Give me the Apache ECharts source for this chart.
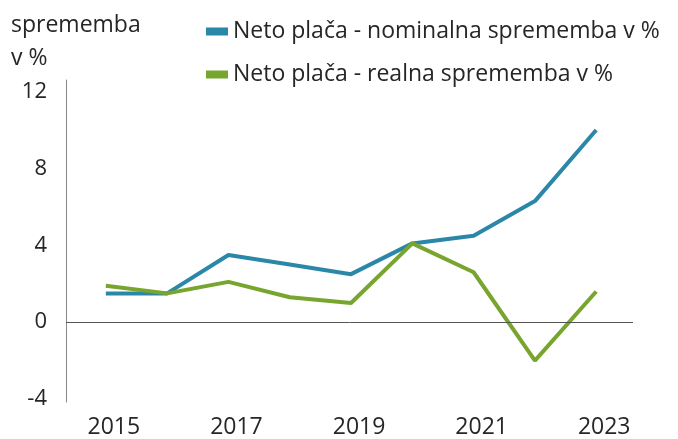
<!DOCTYPE html>
<html><head><meta charset="utf-8">
<script src="https://cdn.jsdelivr.net/npm/echarts@6/dist/echarts.min.js"></script>
<style>html,body{margin:0;padding:0;background:#fff}#c{width:678px;height:439px}</style>
</head><body><div id="c"></div>
<script>
const years = [2015, 2016, 2017, 2018, 2019, 2020, 2021, 2022, 2023];
const nominal = [1.5, 1.5, 3.5, 3.0, 2.5, 4.1, 4.5, 6.3, 10.0];
const real = [1.9, 1.5, 2.1, 1.3, 1.0, 4.1, 2.6, -2.0, 1.6];
const xTickLabels = [2015, 2017, 2019, 2021, 2023];
const yTickLabels = [-4, 0, 4, 8, 12];
const seriesNames = ['Neto plača - nominalna sprememba v %', 'Neto plača - realna sprememba v %'];
const yTitle = 'sprememba\nv %';

const FONT = 'Open Sans';
const TXT = '#262626';
const chart = echarts.init(document.getElementById('c'), null, {renderer: 'canvas'});
chart.setOption({
  animation: false,
  textStyle: {fontFamily: FONT},
  title: {
    text: yTitle, left: 6, top: 4,
    textStyle: {fontFamily: FONT, fontSize: 23, fontWeight: 'normal', color: TXT, lineHeight: 33}
  },
  legend: {
    orient: 'vertical', left: 201, top: 15, icon: 'rect', itemWidth: 22, itemHeight: 8, itemGap: 20,
    textStyle: {fontFamily: FONT, fontSize: 23, color: TXT},
    data: seriesNames
  },
  grid: {left: 66, right: 45, top: 80, bottom: 36},
  xAxis: {
    type: 'value', min: 2014.35, max: 2023.6,
    axisLine: {show: false},
    axisTick: {show: false},
    splitLine: {show: false},
    axisLabel: {
      customValues: xTickLabels, fontSize: 23, color: TXT, margin: 14, fontFamily: FONT,
      padding: [0, 0, 0, 16], formatter: v => String(v)
    }
  },
  yAxis: {
    type: 'value', min: -4.15, max: 12.6,
    axisLine: {show: true, lineStyle: {color: '#888', width: 1}},
    axisTick: {show: false},
    splitLine: {show: false},
    axisLabel: {customValues: yTickLabels, fontSize: 22, color: TXT, margin: 19, fontFamily: FONT}
  },
  series: [
    {
      name: seriesNames[0], type: 'line', symbol: 'none',
      data: years.map((y, i) => [y, nominal[i]]),
      lineStyle: {color: '#2a87a7', width: 4}, itemStyle: {color: '#2a87a7'},
      markLine: {
        silent: true, symbol: 'none', label: {show: false},
        lineStyle: {color: '#555', width: 1, type: 'solid'},
        data: [{yAxis: 0}]
      },
      z: 3
    },
    {
      name: seriesNames[1], type: 'line', symbol: 'none',
      data: years.map((y, i) => [y, real[i]]),
      lineStyle: {color: '#77a52e', width: 4}, itemStyle: {color: '#77a52e'},
      z: 4
    }
  ]
});
</script></body></html>
